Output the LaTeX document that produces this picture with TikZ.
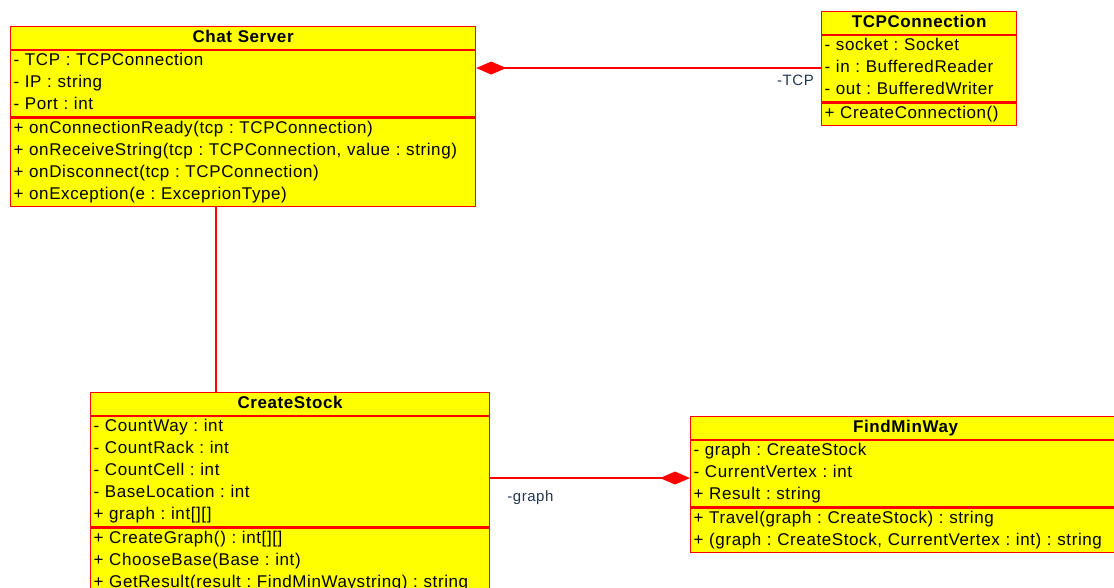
\documentclass[tikz,border=0pt]{standalone}
\usepackage{fontspec}
\setmainfont{Liberation Sans}[LetterSpace=3.5]
\frenchspacing
\usetikzlibrary{positioning,arrows.meta}

\definecolor{umlyellow}{RGB}{255,255,0}
\definecolor{umlred}{RGB}{255,0,0}
\definecolor{rolecolor}{RGB}{35,55,85}

\tikzset{
  classhead/.style={rectangle, draw=umlred, fill=umlyellow, line width=1.2pt,
    inner xsep=3pt, inner ysep=0.25pt, align=center,
    font=\fontsize{17}{22}\selectfont\bfseries,
    execute at begin node=\strut, execute at end node=\strut},
  classbody/.style={rectangle, draw=umlred, fill=umlyellow, line width=1.2pt,
    inner xsep=3pt, inner ysep=0.25pt, align=left,
    font=\fontsize{17}{22}\selectfont,
    execute at begin node=\strut, execute at end node=\strut},
  composition/.style={draw=umlred, line width=1.6pt, -{Diamond[length=30pt, width=13pt, fill=umlred]}},
  assoc/.style={draw=umlred, line width=1.6pt},
  rolename/.style={text=rolecolor, font=\fontsize{15}{18}\selectfont, inner sep=1pt}
}

\begin{document}
\begin{tikzpicture}[x=1pt, y=-1pt]
    \useasboundingbox (0,0) rectangle (1114,587);

    % Chat Server
    \node (chat) [classhead, text width=459pt, anchor=north west] at (10,26) {Chat Server};
    \node (chatattr) [classbody, text width=459pt, below=0pt of chat] {- TCP : TCPConnection\\- IP : string\\- Port : int};
    \node (chatops) [classbody, text width=459pt, below=0pt of chatattr] {+ onConnectionReady(tcp : TCPConnection)\\+ onReceiveString(tcp : TCPConnection, value : string)\\+ onDisconnect(tcp : TCPConnection)\\+ onException(e : ExceprionType)};

    % TCPConnection
    \node (tcp) [classhead, text width=189pt, anchor=north west] at (821,11) {TCPConnection};
    \node (tcpattr) [classbody, text width=189pt, below=0pt of tcp] {- socket : Socket\\- in : BufferedReader\\- out : BufferedWriter};
    \node (tcpops) [classbody, text width=189pt, below=0pt of tcpattr] {+ CreateConnection()};

    % CreateStock
    \node (stock) [classhead, text width=393pt, anchor=north west] at (90,392) {CreateStock};
    \node (stockattr) [classbody, text width=393pt, below=0pt of stock] {- CountWay : int\\- CountRack : int\\- CountCell : int\\- BaseLocation : int\\+ graph : int[][]};
    \node (stockops) [classbody, text width=393pt, below=0pt of stockattr] {+ CreateGraph() : int[][]\\+ ChooseBase(Base : int)\\+ GetResult(result : FindMinWaystring) : string};

    % FindMinWay
    \node (minway) [classhead, text width=424pt, anchor=north west] at (690,416) {FindMinWay};
    \node (minwayattr) [classbody, text width=424pt, below=0pt of minway] {- graph : CreateStock\\- CurrentVertex : int\\+ Result : string};
    \node (minwayops) [classbody, text width=424pt, below=0pt of minwayattr] {+ Travel(graph : CreateStock) : string\\+ (graph : CreateStock, CurrentVertex : int) : string};

    % links
    \draw[assoc] ([xshift=-27pt]chatops.south) -- ([xshift=-27pt]chatops.south |- stock.north);
    \draw[composition] ([yshift=0.5pt]tcpattr.west) -- ([yshift=0.5pt]tcpattr.west -| chatattr.east);
    \draw[composition] ([yshift=-4.5pt]stockattr.east |- minwayattr.west) -- ([yshift=-4.5pt]minwayattr.west);

    % role names
    \node (tcprole) [rolename, anchor=north east] at ([xshift=-6pt, yshift=-5pt]tcpattr.west) {-TCP};
    \node (graphrole) [rolename, anchor=north west] at ([xshift=16pt, yshift=-18pt]stockattr.east) {-graph};
\end{tikzpicture}
\end{document}
